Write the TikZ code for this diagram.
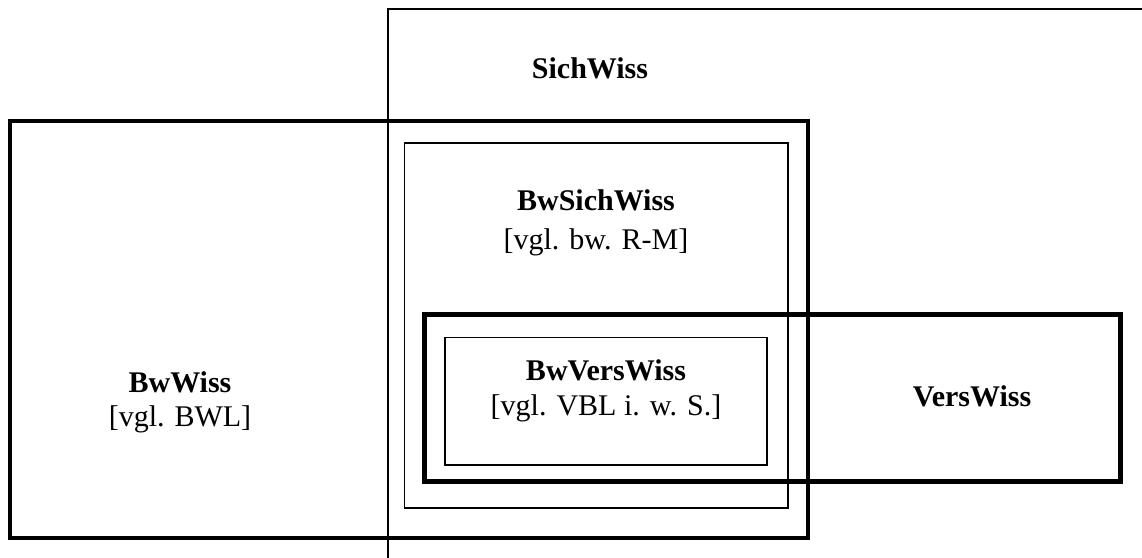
\documentclass[tikz,border=0pt]{standalone}
\usepackage{fontspec}
\setmainfont{Liberation Serif}
\begin{document}
\begin{tikzpicture}[x=1pt,y=-1pt,
  thinbox/.style={draw=black,line width=1.3pt},
  midbox/.style={draw=black,line width=3.5pt},
  thickbox/.style={draw=black,line width=5pt},
  title/.style={font=\fontsize{30}{34}\selectfont\bfseries,inner sep=0pt},
  sub/.style={font=\fontsize{30}{34}\selectfont,inner sep=0pt}]
\useasboundingbox (0,0) rectangle (1142,557);
\clip (0,0) rectangle (1142,557);
\fill[white] (0,0) rectangle (1142,557);
% SichWiss (extends beyond the picture)
\draw[thinbox] (388,9) rectangle (1200,600);
% BwWiss
\draw[midbox] (10,121) rectangle (808,538);
% BwSichWiss
\draw[thinbox] (404.5,143) rectangle (788,508);
% VersWiss
\draw[thickbox] (424,314.5) rectangle (1120,481);
% BwVersWiss
\draw[thinbox] (445,337.5) rectangle (767,465);
% labels
\node[title] (sich) at (590,68) {SichWiss};
\node[title] (bwsich) at (596,200) {BwSichWiss};
\node[sub] (bwsichsub) at (596,242) {[vgl. bw. R-M]};
\node[title] (bw) at (180,382) {BwWiss};
\node[sub] (bwsub) at (180,419) {[vgl. BWL]};
\node[title] (bwvers) at (606,370) {BwVersWiss};
\node[sub] (bwverssub) at (606,408) {[vgl. VBL i. w. S.]};
\node[title] (vers) at (972,396) {VersWiss};
\end{tikzpicture}
\end{document}
